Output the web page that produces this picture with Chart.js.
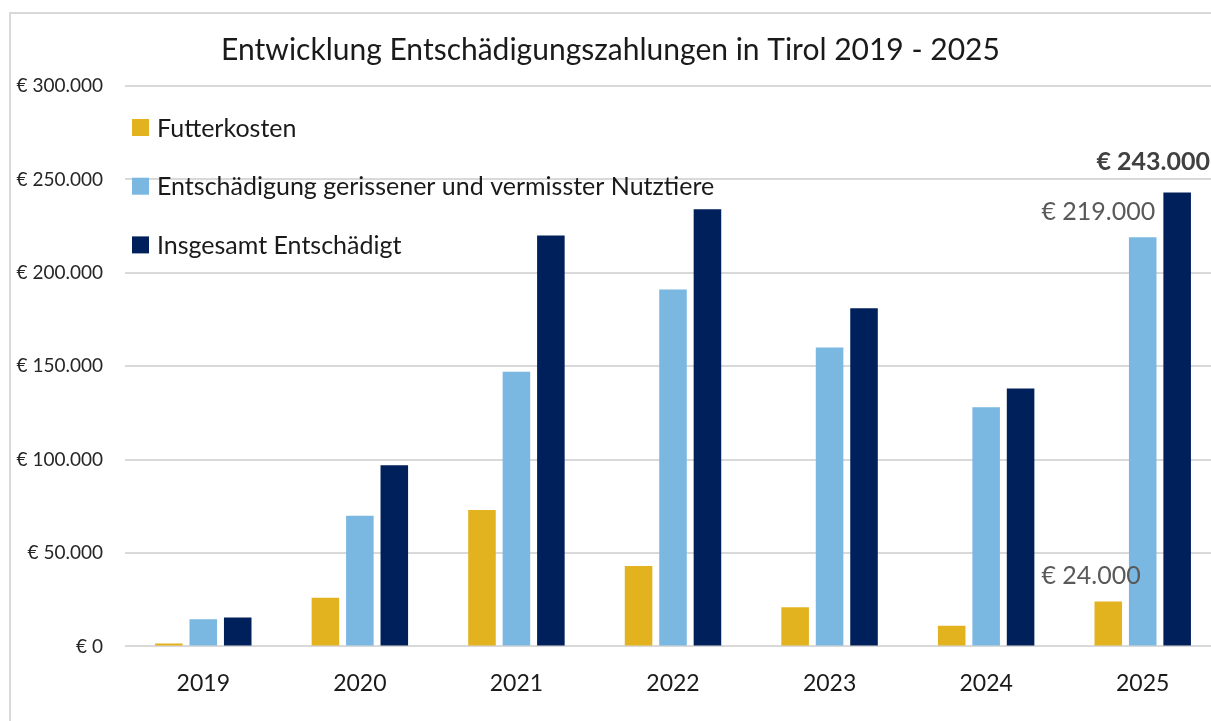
<!DOCTYPE html>
<html lang="de">
<head>
<meta charset="utf-8">
<title>Entwicklung Entschädigungszahlungen in Tirol 2019 - 2025</title>
<script src="https://cdn.jsdelivr.net/npm/chart.js@4.4.1/dist/chart.umd.min.js"></script>
<style>
    html, body { margin: 0; padding: 0; background: #fff; overflow: hidden; }
    #frame {
        position: absolute; left: 9px; top: 12px;
        width: 1400px; height: 900px;
        border: 2px solid #d9d9d9;
    }
    #chart { position: absolute; left: 0; top: 0; }
</style>
</head>
<body>
<div id="frame"></div>
<canvas id="chart" width="1221" height="721"></canvas>
<script>
/* Entschädigungszahlungen Tirol — grouped bars per year */

const years = ['2019', '2020', '2021', '2022', '2023', '2024', '2025'];
const seriesNames = ['Futterkosten', 'Entschädigung gerissener und vermisster Nutztiere', 'Insgesamt Entschädigt'];
const futterkosten = [1500, 26000, 73000, 43000, 21000, 11000, 24000];
const nutztiere = [14500, 70000, 147000, 191000, 160000, 128000, 219000];
const insgesamt = [15500, 97000, 220000, 234000, 181000, 138000, 243000];
const yTicks = [0, 50000, 100000, 150000, 200000, 250000, 300000];

const colors = ['#e3b21f', '#7ab8e2', '#00205b'];
const FONT = 'Lato';

function euro(v) {
    return '€ ' + String(Math.round(v)).replace(/\B(?=(\d{3})+(?!\d))/g, '.');
}

// vertical legend in the top-left of the plot area
const sideLegend = {
    id: 'sideLegend',
    afterDraw(chart) {
        const { ctx, chartArea } = chart;
        ctx.save();
        ctx.font = `25px ${FONT}`;
        ctx.textBaseline = 'middle';
        chart.data.datasets.forEach((d, i) => {
            const cy = chartArea.top + 41.5 + i * 58.7;
            ctx.fillStyle = d.backgroundColor;
            ctx.fillRect(chartArea.left + 7, cy - 8.5, 17, 17);
            ctx.fillStyle = '#1a1a1a';
            ctx.fillText(d.label, chartArea.left + 32, cy + 1);
        });
        ctx.restore();
    }
};

// value labels on the last year only
const lastLabels = {
    id: 'lastLabels',
    afterDatasetsDraw(chart) {
        const { ctx } = chart;
        const idx = years.length - 1;
        const spots = [
            { dx: 32.5, dy: -26, bold: false, color: '#595959' },
            { dx: 12.5, dy: -25, bold: false, color: '#595959' },
            { dx: 35, dy: -31, bold: true, color: '#404040' }
        ];
        ctx.save();
        ctx.textAlign = 'right';
        ctx.textBaseline = 'middle';
        chart.data.datasets.forEach((d, i) => {
            const bar = chart.getDatasetMeta(i).data[idx];
            const s = spots[i];
            ctx.font = `${s.bold ? 'bold ' : ''}25px ${FONT}`;
            ctx.fillStyle = s.color;
            const right = Math.min(bar.x + s.dx, 1210);
            ctx.fillText(euro(d.data[idx]), right, bar.y + s.dy);
        });
        ctx.restore();
    }
};

new Chart(document.getElementById('chart'), {
    type: 'bar',
    data: {
        labels: years,
        datasets: [futterkosten, nutztiere, insgesamt].map((vals, i) => ({
            label: seriesNames[i],
            data: vals,
            backgroundColor: colors[i],
            borderColor: colors[i],
            borderWidth: 0,
            categoryPercentage: 0.66,
            barPercentage: 0.8
        }))
    },
    options: {
        responsive: false,
        animation: false,
        layout: { padding: { top: 0, left: 0, right: 0, bottom: 9 } },
        plugins: {
            legend: { display: false },
            tooltip: { enabled: false },
            title: {
                display: true,
                text: 'Entwicklung Entschädigungszahlungen in Tirol 2019 - 2025',
                color: '#1a1a1a',
                font: { family: FONT, size: 30, weight: 'normal', lineHeight: 1.2 },
                padding: { top: 32, bottom: 18 }
            }
        },
        scales: {
            x: {
                grid: { display: false },
                border: { display: false },
                ticks: { color: '#1a1a1a', padding: 15, font: { family: FONT, size: 23 } }
            },
            y: {
                min: 0,
                max: 300000,
                afterFit(scale) { scale.width = 125; },
                afterBuildTicks(scale) { scale.ticks = yTicks.map(v => ({ value: v })); },
                grid: { color: '#d9d9d9', lineWidth: 2, drawTicks: false },
                border: { display: false },
                ticks: {
                    color: '#262626',
                    padding: 22,
                    font: { family: FONT, size: 19 },
                    callback: (v) => euro(v)
                }
            }
        }
    },
    plugins: [sideLegend, lastLabels]
});
</script>
</body>
</html>
